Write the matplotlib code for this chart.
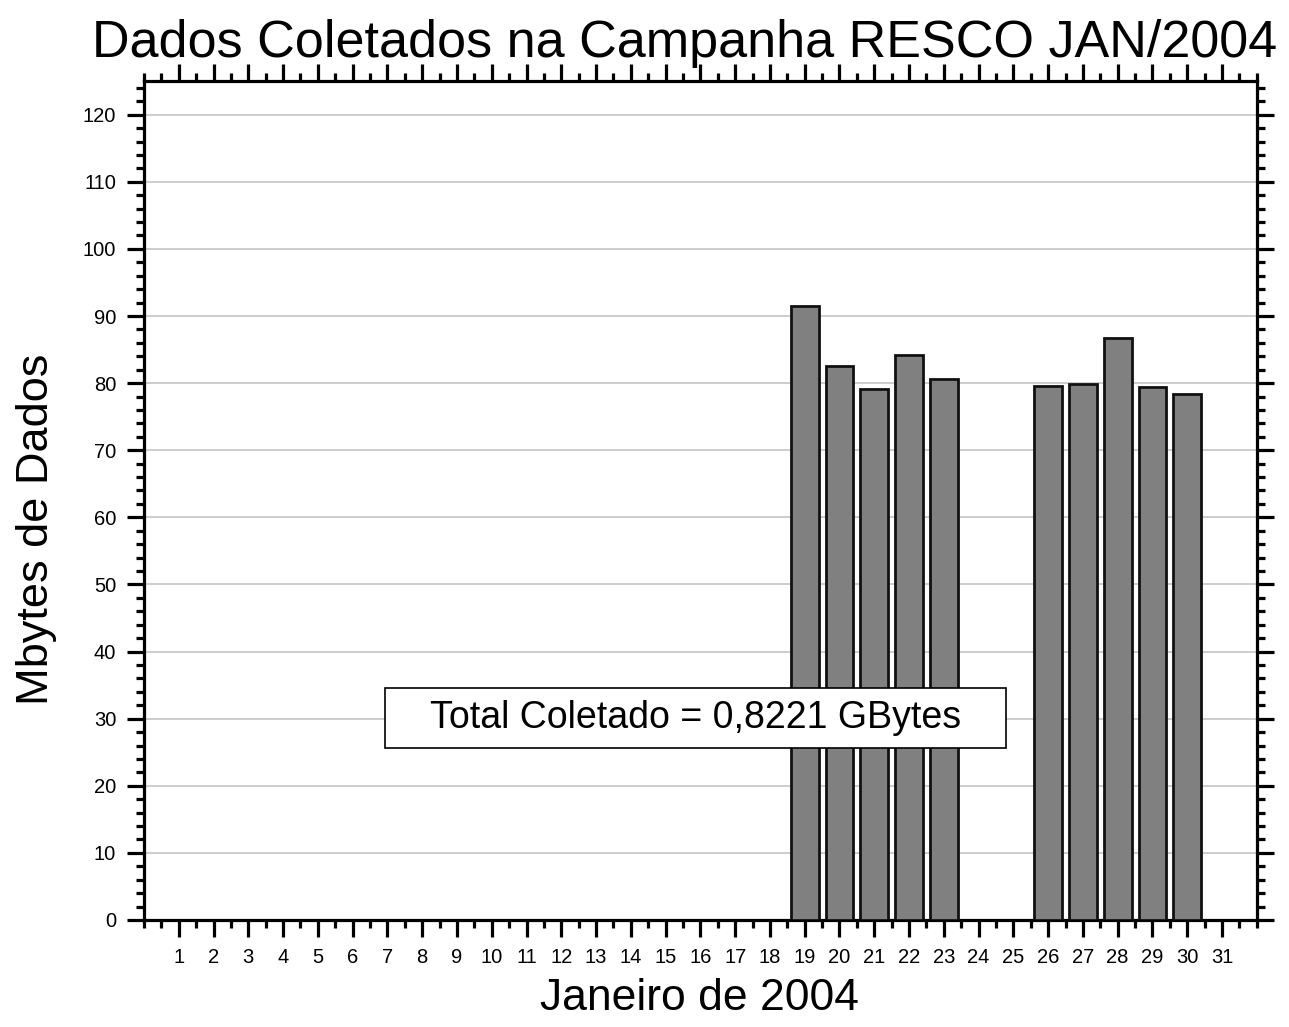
import numpy as np
import matplotlib
matplotlib.use("Agg")
import matplotlib.pyplot as plt
from matplotlib.patches import Rectangle
from matplotlib.ticker import MultipleLocator

plt.rcParams["font.family"] = ["Liberation Sans", "DejaVu Sans"]

dias = [19, 20, 21, 22, 23, 26, 27, 28, 29, 30]
mbytes = [91.5, 82.6, 79.05, 84.2, 80.6, 79.6, 79.9, 86.7, 79.4, 78.4]
total_texto = "Total Coletado = 0,8221 GBytes"

fig = plt.figure(figsize=(12.89, 10.27), dpi=100)
ax = fig.add_axes([0.1117, 0.1042, 0.8633, 0.8168])

ax.bar(dias, mbytes, width=0.8, color="#808080", edgecolor="#111111", linewidth=2, zorder=3)

ax.set_xlim(0, 32)
ax.set_ylim(0, 125)
ax.set_xticks(range(1, 32))
ax.xaxis.set_minor_locator(MultipleLocator(0.5))
ax.yaxis.set_major_locator(MultipleLocator(10))
ax.yaxis.set_minor_locator(MultipleLocator(2))
ax.grid(axis="y", which="major", color="#c8c8c8", linewidth=1.3, zorder=0)

for s in ax.spines.values():
    s.set_linewidth(2.3)

ax.tick_params(which="both", direction="out", top=True, right=True, width=2.3,
               labelsize=14.5, labeltop=False, labelright=False)
ax.tick_params(which="major", length=12, pad=8)
ax.tick_params(which="minor", length=6)

# caixa do total
ax.add_patch(Rectangle((0.2166, 0.205), 0.5582, 0.0715, transform=ax.transAxes,
                       facecolor="white", edgecolor="black", linewidth=1.2, zorder=5))
ax.text(0.4957, 0.2408, total_texto, transform=ax.transAxes, fontsize=27,
        ha="center", va="center", zorder=6)

fig.text(0.531, 0.958, "Dados Coletados na Campanha RESCO JAN/2004", fontsize=37.5,
         ha="center", va="center")
fig.text(0.028, 0.485, "Mbytes de Dados", fontsize=32.5, rotation=90, ha="center", va="center")
fig.text(0.543, 0.028, "Janeiro de 2004", fontsize=32, ha="center", va="center")

fig.savefig("out.png", dpi=100)
